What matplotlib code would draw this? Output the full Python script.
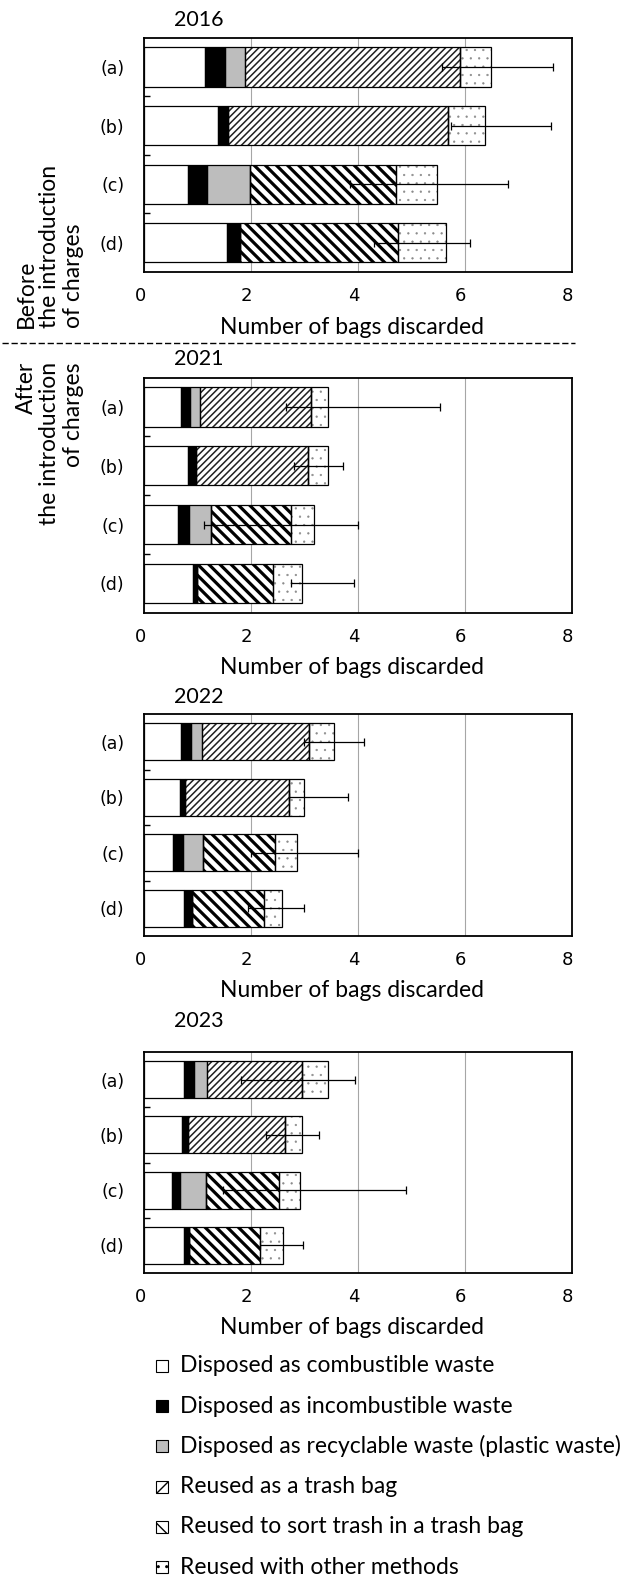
import matplotlib
matplotlib.use('Agg')
import matplotlib.pyplot as plt
from matplotlib.patches import Rectangle
from matplotlib.transforms import ScaledTranslation
from matplotlib import font_manager

# ---- data ----
years = ['2016', '2021', '2022', '2023']
categories = ['(a)', '(b)', '(c)', '(d)']
series_labels = [
    'Disposed as combustible waste',
    'Disposed as incombustible waste',
    'Disposed as recyclable waste (plastic waste)',
    'Reused as a trash bag',
    'Reused to sort trash in a trash bag',
    'Reused with other methods',
]

# one row per year, one value per category (a)-(d)
combustible = [[1.15, 1.38, 0.83, 1.55], [0.69, 0.82, 0.63, 0.91],
               [0.69, 0.68, 0.54, 0.74], [0.74, 0.71, 0.52, 0.74]]
incombustible = [[0.37, 0.20, 0.35, 0.24], [0.17, 0.15, 0.22, 0.09],
                 [0.19, 0.09, 0.19, 0.15], [0.20, 0.11, 0.16, 0.10]]
recyclable = [[0.37, 0.0, 0.81, 0.0], [0.18, 0.0, 0.41, 0.0],
              [0.21, 0.0, 0.37, 0.0], [0.23, 0.0, 0.48, 0.0]]
trash_bag = [[4.03, 4.11, 0.0, 0.0], [2.09, 2.10, 0.0, 0.0],
             [2.00, 1.94, 0.0, 0.0], [1.78, 1.81, 0.0, 0.0]]
sort_trash = [[0.0, 0.0, 2.73, 2.96], [0.0, 0.0, 1.49, 1.41],
              [0.0, 0.0, 1.36, 1.36], [0.0, 0.0, 1.36, 1.34]]
other = [[0.57, 0.69, 0.76, 0.90], [0.32, 0.38, 0.43, 0.54],
         [0.47, 0.28, 0.40, 0.34], [0.50, 0.32, 0.39, 0.42]]
err_low = [[5.57, 5.74, 3.85, 4.30], [2.65, 2.80, 1.13, 2.76],
           [2.99, 2.71, 2.00, 1.94], [1.81, 2.28, 1.47, 2.18]]
err_high = [[7.65, 7.61, 6.82, 6.10], [5.54, 3.72, 4.00, 3.93],
            [4.12, 3.81, 4.01, 3.00], [3.95, 3.28, 4.90, 2.98]]
xticks = [0, 2, 4, 6, 8]

# ---- styles ----
fills = ['white', 'black', '#bdbdbd', 'white', 'white', 'white']
hatches = [None, None, None, '/////', '\\\\\\', '..']
hatch_colors = ['black', 'black', 'black', '#202020', 'black', '#8a8a8a']
hatch_lw = [1.0, 1.0, 1.0, 1.1, 2.3, 0.4]
legend_hatches = [None, None, None, '//', '\\\\', '..']

_names = {f.name for f in font_manager.fontManager.ttflist}
narrow = 'Liberation Sans Narrow' if 'Liberation Sans Narrow' in _names else 'DejaVu Sans'
text_font = 'Lato' if 'Lato' in _names else 'DejaVu Sans'


def set_hlw(patches, lw):
    for p in patches:
        if hasattr(p, 'set_hatch_linewidth'):
            p.set_hatch_linewidth(lw)


W, H = 623, 1578
fig = plt.figure(figsize=(W / 100, H / 100), dpi=100)

# overlay in pixel coords for free text, divider and legend
ov = fig.add_axes([0, 0, 1, 1])
ov.set_xlim(0, W)
ov.set_ylim(H, 0)
ov.axis('off')

# panel boxes in pixels: (top, bottom)
panel_px = [(37.7, 272.0), (377.7, 612.7), (714.0, 936.0), (1052.0, 1273.0)]
left_px, right_px = 144.0, 571.5
title_y = [20, 359, 697, 1021]

series = [combustible, incombustible, recyclable, trash_bag, sort_trash, other]
ypos = list(range(len(categories)))

for k, year in enumerate(years):
    top, bot = panel_px[k]
    ax = fig.add_axes([left_px / W, 1 - bot / H, (right_px - left_px) / W, (bot - top) / H])
    left = [0.0] * len(categories)
    for s, vals in enumerate(series):
        with plt.rc_context({'hatch.linewidth': hatch_lw[s]}):
            # fill + hatch in its own colour, then a black outline on top
            fill = ax.barh(ypos, vals[k], height=0.667, left=left, color=fills[s],
                           edgecolor=hatch_colors[s], linewidth=0, hatch=hatches[s], zorder=2)
            set_hlw(fill, hatch_lw[s])
        ax.barh(ypos, vals[k], height=0.667, left=left, fill=False,
                edgecolor='black', linewidth=0.9, zorder=2.1)
        left = [a + b for a, b in zip(left, vals[k])]
    centers = [(lo + hi) / 2 for lo, hi in zip(err_low[k], err_high[k])]
    half = [(hi - lo) / 2 for lo, hi in zip(err_low[k], err_high[k])]
    ax.errorbar(centers, ypos, xerr=half, fmt='none', ecolor='black',
                elinewidth=0.9, capsize=3, capthick=0.9, zorder=3)

    ax.set_xlim(0, 8)
    ax.set_ylim(3.5, -0.5)
    ax.set_xticks(xticks)
    ax.set_xticklabels([str(t) for t in xticks], fontfamily=narrow, fontsize=13)
    ax.tick_params(axis='x', length=0, pad=11)
    for lab in ax.get_xticklabels():
        lab.set_transform(lab.get_transform() + ScaledTranslation(-0.04, 0, fig.dpi_scale_trans))
    ax.set_yticks([0.5, 1.5, 2.5])
    ax.set_yticklabels([])
    ax.tick_params(axis='y', which='major', direction='in', length=4.5, width=1)
    ax.set_yticks(ypos, minor=True)
    ax.set_yticklabels(categories, minor=True, fontsize=12.5)
    ax.tick_params(axis='y', which='minor', length=0, pad=14)
    ax.grid(axis='x', color='#a6a6a6', linewidth=0.8, zorder=0)
    ax.set_axisbelow(True)
    for sp in ax.spines.values():
        sp.set_linewidth(1.3)
    h = bot - top
    ax.set_xlabel('Number of bags discarded', fontfamily=text_font, fontsize=16.5, va='center')
    ax.xaxis.set_label_coords((351.7 - left_px) / (right_px - left_px), -55 / h)

    ov.text(199, title_y[k], year, fontfamily=text_font, fontsize=15.5, ha='center', va='center')

# side notes and divider
ov.text(50, 328, 'Before\nthe introduction\nof charges', rotation=90, ha='center', va='bottom',
        multialignment='left', fontfamily=text_font, fontsize=16.5, linespacing=1.15)
ov.text(50, 362, 'After\nthe introduction\nof charges', rotation=90, ha='center', va='top',
        multialignment='right', fontfamily=text_font, fontsize=16.5, linespacing=1.15)
ov.plot([2, 575], [343, 343], color='black', linewidth=1.0, linestyle=(0, (4.5, 2)))

# legend
for i, lab in enumerate(series_labels):
    yc = 1366 + 40.2 * i
    with plt.rc_context({'hatch.linewidth': 1.0}):
        r = Rectangle((156, yc - 6), 12, 12, facecolor=fills[i], edgecolor='black',
                      linewidth=0.8, hatch=legend_hatches[i])
    ov.add_patch(r)
    ov.text(180.5, yc, lab, fontfamily=text_font, fontsize=16.5, ha='left', va='center')

fig.savefig('out.png', dpi=100)
